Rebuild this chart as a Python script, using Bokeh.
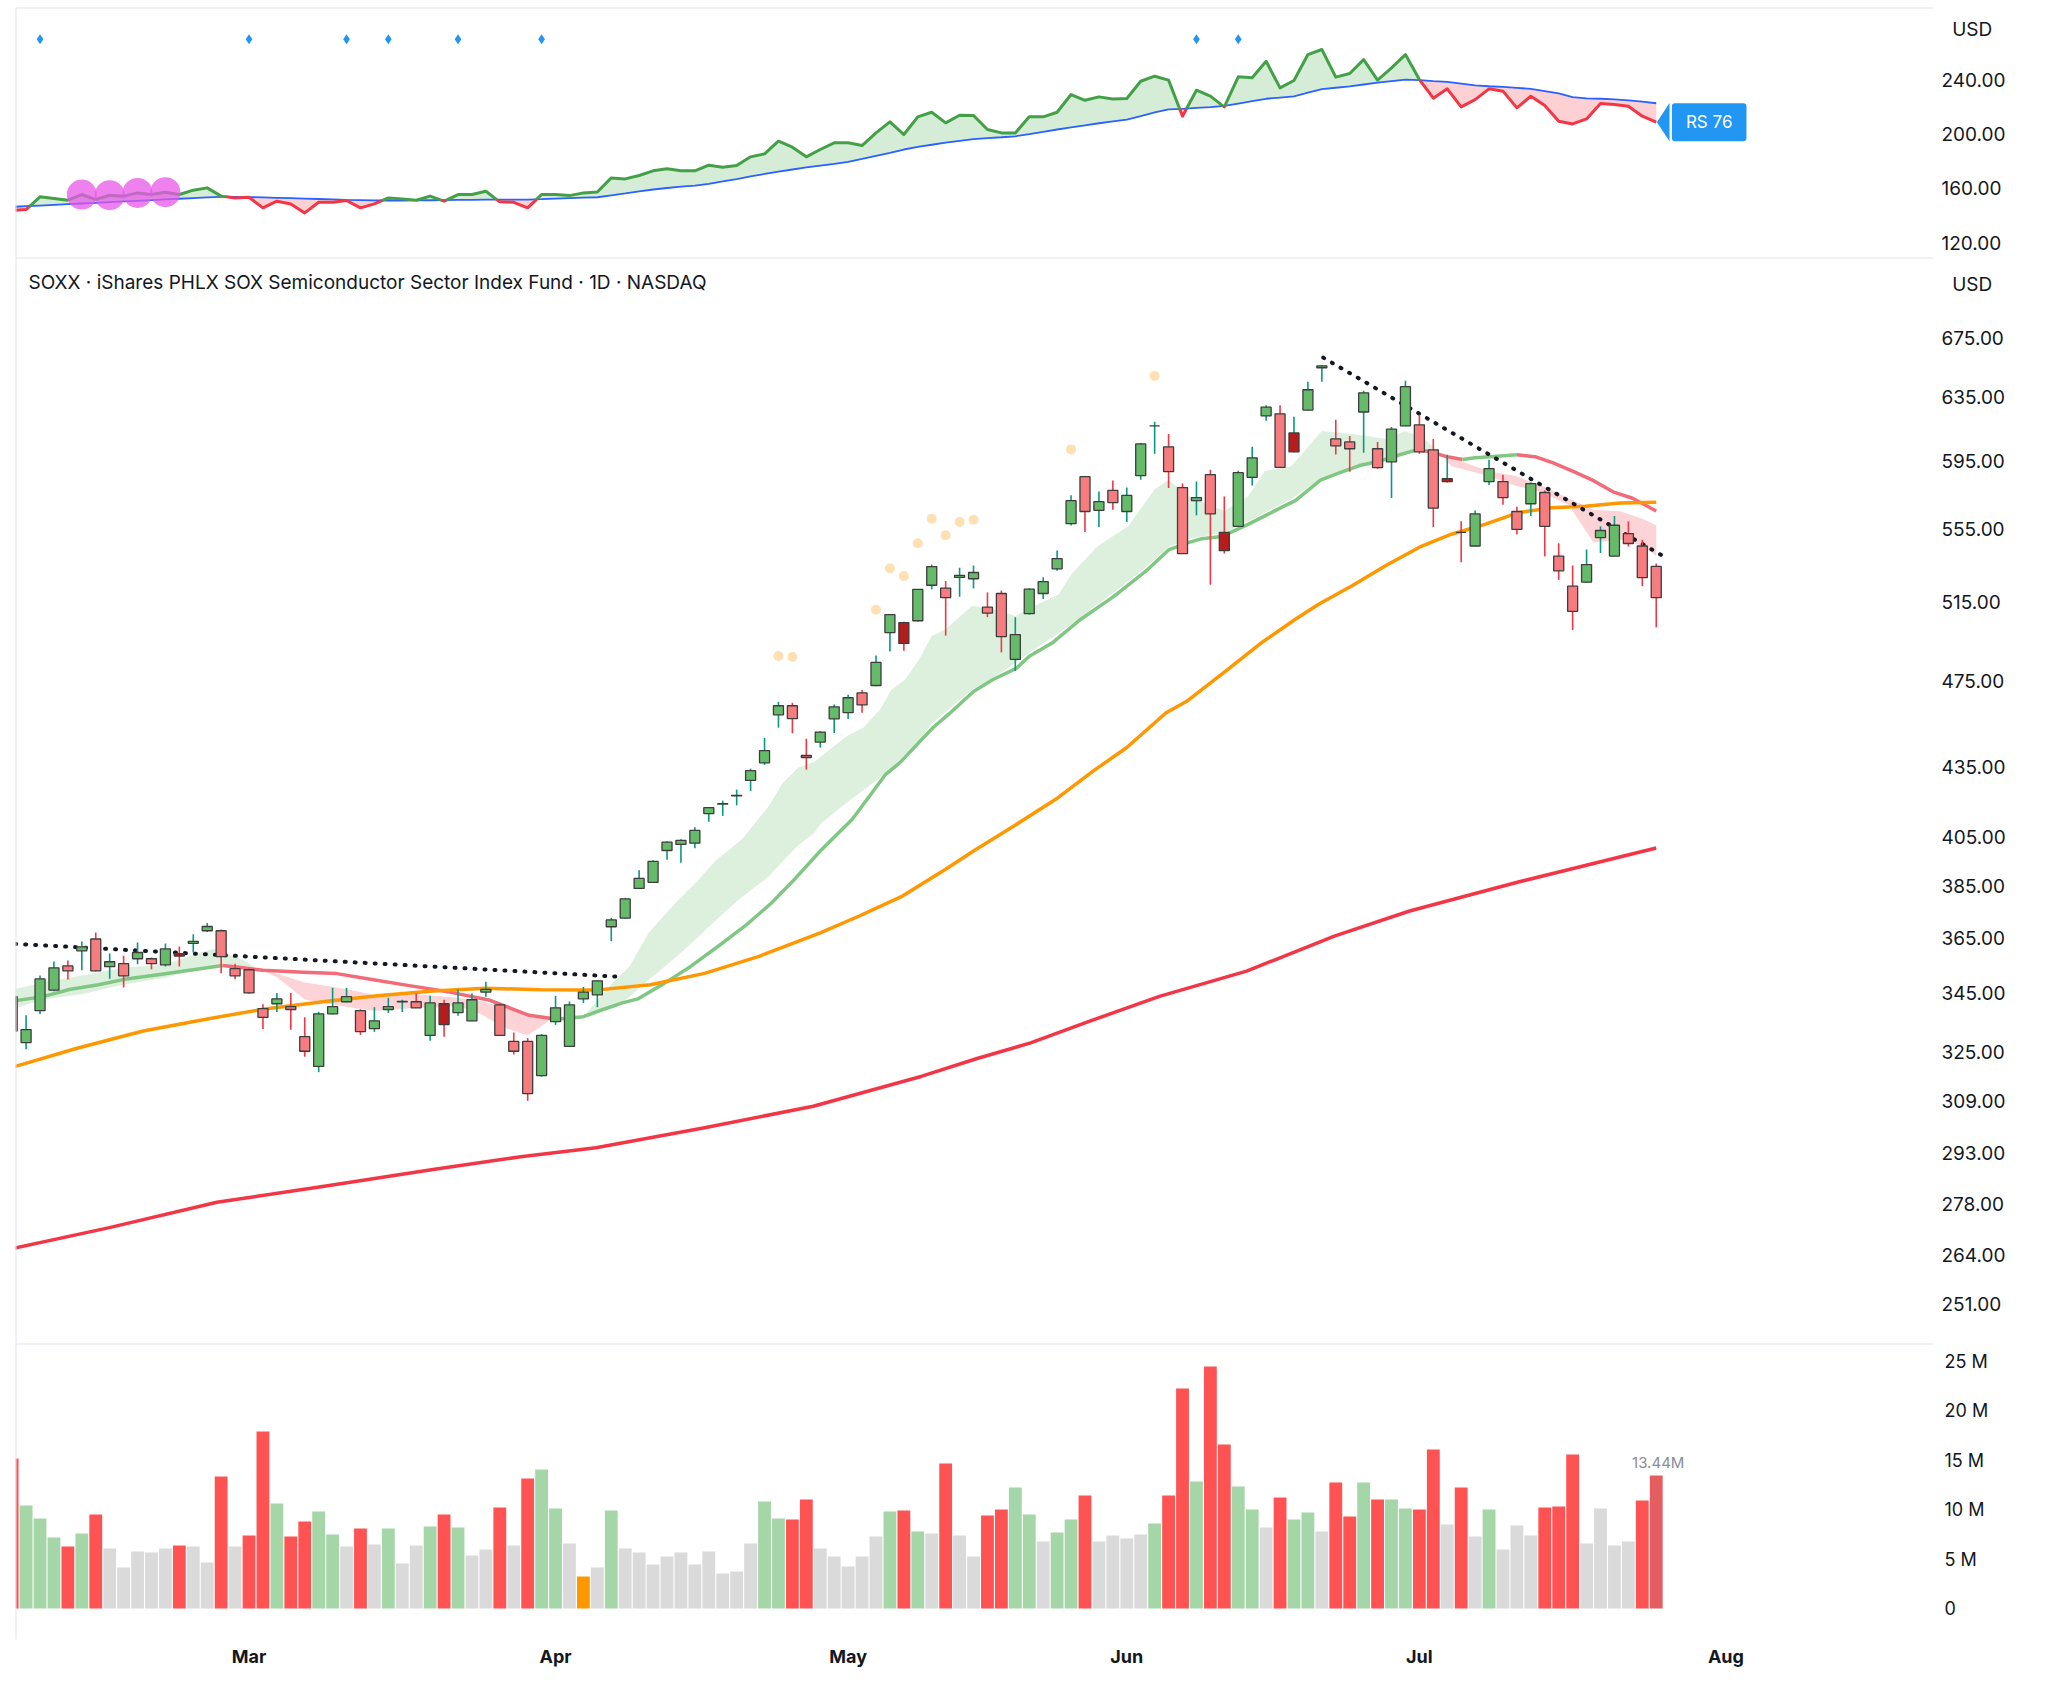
import math
from bokeh.plotting import figure
from bokeh.models import Range1d, FixedTicker, PrintfTickFormatter, Label, Span
from bokeh.layouts import column
from bokeh.embed import file_html
from bokeh.resources import INLINE

FONT = "Inter"
TXT = "#131722"
BORDER = "#e0e3eb"

# ---------------- data ----------------
title = "SOXX · iShares PHLX SOX Semiconductor Sector Index Fund · 1D · NASDAQ"
currency = "USD"
rs_rating = 76

month_labels = ["Mar", "Apr", "May", "Jun", "Jul", "Aug"]
month_index = [17, 39, 60, 80, 101, 123]

opens = [344.0, 328.2, 339.1, 346.3, 355.0, 360.5, 364.9, 354.7, 355.8, 357.6,
         357.6, 355.4, 359.5, 363.3, 368.0, 368.0, 354.0, 353.6, 339.8, 341.5,
         340.5, 330.2, 320.3, 338.0, 342.2, 339.1, 332.9, 339.5, 342.2, 342.2,
         330.6, 341.5, 338.4, 335.6, 345.6, 341.1, 328.6, 328.6, 317.3, 335.3,
         326.9, 343.2, 344.6, 369.5, 372.8, 384.3, 386.7, 399.5, 402.0, 402.5,
         414.9, 418.9, 422.5, 429.2, 437.0, 459.0, 463.3, 440.3, 446.4, 457.1,
         460.0, 469.4, 473.0, 499.3, 504.4, 505.4, 524.1, 522.6, 528.3, 527.6,
         512.5, 519.7, 485.8, 509.1, 519.7, 533.0, 558.2, 585.7, 565.8, 577.5,
         565.2, 586.3, 617.0, 603.9, 579.2, 571.5, 586.9, 553.2, 556.7, 585.3,
         623.3, 624.6, 612.5, 627.0, 654.8, 608.8, 606.9, 625.8, 602.7, 594.7,
         617.0, 617.6, 602.0, 584.5, 553.2, 545.6, 582.8, 582.8, 565.2, 569.7,
         576.3, 540.0, 523.6, 525.8, 550.3, 540.0, 552.6, 545.6, 534.3]
highs = [346.0, 337.5, 351.5, 356.6, 357.0, 364.0, 367.3, 359.5, 358.7, 363.6,
         358.1, 363.2, 362.1, 366.7, 370.9, 368.5, 355.8, 354.0, 341.3, 345.3,
         345.3, 336.8, 338.7, 347.1, 347.1, 339.6, 340.3, 343.6, 342.9, 345.1,
         344.3, 342.9, 346.6, 345.1, 349.3, 341.6, 331.6, 329.7, 331.0, 344.3,
         342.3, 347.4, 349.8, 372.9, 380.6, 391.5, 395.5, 403.3, 404.1, 409.1,
         417.6, 420.4, 425.2, 434.4, 448.3, 465.2, 464.7, 447.9, 451.4, 463.9,
         468.5, 470.8, 487.7, 508.8, 504.9, 522.1, 535.3, 526.4, 533.6, 534.8,
         520.3, 521.3, 507.2, 522.5, 528.4, 543.1, 574.7, 586.0, 576.9, 583.4,
         579.2, 606.3, 619.5, 611.9, 581.6, 582.8, 589.9, 573.9, 589.3, 603.9,
         630.1, 630.1, 622.7, 645.5, 656.7, 620.8, 610.6, 639.5, 606.9, 616.2,
         646.1, 624.0, 608.8, 599.0, 559.6, 565.8, 596.0, 586.9, 568.0, 582.2,
         577.5, 547.1, 534.8, 543.6, 556.7, 562.6, 559.5, 549.1, 535.9]
lows = [331.0, 326.0, 337.9, 345.9, 350.1, 353.4, 353.0, 350.4, 347.2, 355.6,
        353.8, 354.8, 354.8, 359.9, 367.5, 352.3, 350.2, 345.0, 332.8, 338.6,
        332.5, 323.5, 318.4, 337.8, 342.0, 330.8, 331.8, 338.3, 338.6, 340.0,
        328.8, 330.2, 337.3, 335.4, 344.0, 330.4, 324.2, 309.2, 316.9, 334.2,
        326.7, 341.8, 340.3, 364.1, 372.6, 384.1, 386.5, 395.7, 394.5, 400.4,
        411.4, 413.9, 418.4, 424.6, 436.1, 453.0, 450.4, 434.0, 443.9, 450.5,
        457.1, 460.0, 472.6, 489.8, 490.1, 504.9, 521.9, 497.8, 518.0, 522.4,
        507.3, 489.3, 480.1, 508.6, 516.8, 531.9, 557.1, 553.4, 556.3, 566.2,
        559.2, 583.9, 599.6, 579.0, 541.2, 563.0, 524.4, 541.4, 556.5, 580.4,
        620.2, 591.0, 600.6, 626.8, 645.5, 599.2, 588.7, 600.2, 590.5, 573.0,
        616.8, 599.6, 556.3, 582.2, 536.6, 545.4, 580.8, 569.1, 552.0, 562.6,
        539.8, 527.0, 500.6, 525.3, 541.7, 539.8, 545.3, 523.6, 502.0]
closes = [332.1, 332.6, 350.3, 354.3, 353.2, 362.0, 353.2, 356.5, 351.4, 359.9,
          355.8, 361.2, 358.6, 364.0, 369.6, 358.4, 351.4, 345.3, 336.8, 343.2,
          339.5, 325.3, 338.0, 340.5, 344.0, 331.9, 335.6, 340.5, 342.3, 340.1,
          341.8, 334.3, 341.8, 342.9, 346.6, 330.6, 325.3, 311.5, 330.6, 340.1,
          341.1, 345.6, 349.6, 372.1, 380.2, 388.3, 395.1, 402.9, 403.7, 407.8,
          417.4, 419.1, 422.7, 433.5, 442.5, 463.3, 457.2, 439.4, 451.0, 462.8,
          467.1, 463.7, 484.3, 508.6, 493.8, 521.9, 534.2, 517.5, 529.4, 531.0,
          509.4, 497.3, 498.3, 522.0, 526.1, 538.6, 571.5, 565.2, 570.9, 570.4,
          574.6, 605.7, 617.0, 588.7, 541.4, 573.3, 563.8, 543.0, 588.1, 597.1,
          628.9, 591.3, 600.8, 640.2, 656.1, 604.5, 602.7, 638.2, 591.1, 614.9,
          642.2, 600.8, 567.2, 582.8, 553.2, 563.8, 590.5, 573.3, 554.9, 581.6,
          556.7, 531.9, 510.3, 535.3, 554.3, 557.3, 547.0, 528.2, 517.5]
dark_candles = [12, 31, 64, 87, 92, 103]
dot_candles = [55, 56, 62, 63, 64, 65, 66, 67, 68, 69, 76, 82]

volume_m = [15.15, 10.40, 9.09, 7.17, 6.26, 7.58, 9.49, 6.06, 4.14, 5.76,
            5.66, 6.06, 6.36, 6.26, 4.65, 13.33, 6.26, 7.37, 17.88, 10.61,
            7.27, 8.79, 9.80, 7.47, 6.26, 8.08, 6.46, 8.08, 4.55, 6.36,
            8.28, 9.49, 8.18, 5.35, 5.96, 10.20, 6.36, 13.13, 14.04, 10.10,
            6.57, 3.23, 4.14, 9.90, 6.06, 5.66, 4.44, 5.25, 5.66, 4.44,
            5.76, 3.54, 3.74, 6.57, 10.81, 9.09, 8.99, 11.01, 6.06, 5.25,
            4.24, 5.25, 7.27, 9.80, 9.90, 7.78, 7.58, 14.65, 7.37, 5.25,
            9.39, 10.00, 12.22, 9.49, 6.77, 7.68, 8.99, 11.41, 6.77, 7.37,
            7.07, 7.47, 8.59, 11.41, 22.22, 12.83, 24.44, 16.57, 12.32, 10.00,
            8.18, 11.21, 8.99, 9.70, 7.78, 12.73, 9.29, 12.73, 11.01, 11.01,
            10.10, 10.00, 16.06, 8.48, 12.22, 7.27, 10.00, 5.96, 8.38, 7.37,
            10.20, 10.30, 15.56, 6.57, 10.10, 6.36, 6.77, 10.91, 13.44]
volume_kind = list("rgggrgrnnn" "nnrnnrnrrg" "rrggnrngnn" "grgnnrnrgg" "nongnnnnnn"
                   "nnnnggrrnn" "nnngrgnrnn" "rrggngg" "rnn" "nngrrgrrgg" "nrggnrrgrg"
                   "grrnrngnnn" "rrrnnnnrl")

rs_line = [144.1, 144.9, 154.2, 152.9, 151.7, 155.9, 152.2, 155.4, 154.7, 157.1,
           155.9, 157.6, 155.9, 159.1, 160.8, 154.7, 153.4, 153.9, 146.1, 151.0,
           149.0, 142.4, 150.2, 150.2, 151.5, 146.1, 149.0, 153.4, 152.7, 151.7,
           154.7, 151.0, 155.9, 155.9, 158.3, 150.5, 150.2, 146.1, 155.9, 155.9,
           155.1, 157.1, 157.8, 168.1, 167.4, 169.9, 173.3, 174.8, 173.3, 173.3,
           177.5, 176.0, 177.2, 183.6, 185.8, 195.1, 190.7, 183.6, 189.0, 193.9,
           193.9, 191.9, 201.2, 209.3, 200.0, 213.0, 216.4, 208.6, 214.2, 214.0,
           203.7, 201.2, 201.2, 213.0, 213.0, 216.4, 229.4, 225.2, 227.7, 226.2,
           226.5, 239.2, 242.9, 240.0, 213.5, 232.6, 228.2, 220.3, 242.4, 241.7,
           253.9, 234.3, 239.7, 258.8, 262.5, 242.2, 244.9, 255.1, 240.0, 249.0,
           258.8, 240.4, 226.7, 233.6, 220.3, 225.7, 233.6, 231.9, 219.6, 228.2,
           221.3, 209.8, 207.8, 211.5, 222.8, 222.1, 220.8, 213.5, 209.1]
rs_avg = [146.8, 147.3, 147.8, 148.3, 148.8, 149.3, 149.8, 150.3, 150.8, 151.3,
          151.8, 152.3, 152.8, 153.3, 153.8, 154.2, 154.2, 154.0, 153.8, 153.5,
          153.2, 152.9, 152.6, 152.3, 152.0, 151.8, 151.6, 151.5, 151.5, 151.6,
          151.7, 151.8, 151.9, 152.0, 152.1, 152.2, 152.2, 152.2, 152.5, 152.9,
          153.3, 153.6, 153.9, 155.3, 156.7, 158.2, 159.6, 160.7, 161.7, 162.5,
          163.8, 165.5, 167.3, 169.2, 171.0, 172.8, 174.3, 175.8, 177.2, 178.5,
          179.9, 182.1, 184.4, 186.6, 189.0, 191.0, 192.5, 194.0, 195.4, 196.7,
          197.4, 198.0, 198.7, 200.3, 202.0, 203.7, 205.3, 206.8, 208.3, 209.7,
          211.0, 213.6, 216.3, 218.5, 218.9, 219.6, 220.1, 221.0, 222.8, 224.6,
          226.3, 227.2, 228.1, 230.8, 233.4, 234.4, 235.4, 236.8, 238.1, 239.3,
          240.4, 240.0, 239.3, 238.7, 237.5, 236.2, 235.5, 235.0, 234.3, 233.6,
          232.0, 230.2, 227.5, 226.6, 226.3, 225.8, 225.1, 224.2, 223.0]
rs_signal_bars = [2, 17, 24, 27, 32, 38, 85, 88]
rs_signal_level = 270.0
rs_highlight_bars = [5, 7, 9, 11]

ema_x = [0, 2.2, 4.1, 6.2, 8.2, 10.6, 13.0, 15.1, 16.6, 18.0, 20.9, 23.3, 25.6, 28.5,
         31.4, 34.3, 35.7, 37.1, 39.1, 41.0, 42.4, 43.8, 44.9, 46.8, 48.7, 50.7, 52.6,
         54.5, 56.0, 58.0, 60.3, 62.7, 63.7, 66.1, 67.2, 69.0, 70.4, 72.1, 73.0, 74.7,
         76.7, 79.1, 81.5, 83.0, 84.4, 85.4, 86.8, 88.7, 91.1, 92.1, 93.9, 95.3, 96.7,
         98.1, 99.6, 100.8, 101.7, 102.9, 104.1, 105.0, 106.3, 108.0, 109.4, 110.6,
         112.0, 113.5, 114.9, 116.3, 118.0]
ema_y = [342.4, 344.0, 346.5, 348.2, 350.3, 351.9, 353.6, 355.1, 354.3, 353.4, 352.7,
         352.2, 350.3, 347.9, 345.6, 342.7, 340.1, 337.5, 336.1, 337.0, 339.5, 341.8,
         343.2, 348.7, 354.8, 362.3, 369.8, 378.6, 387.0, 399.3, 412.5, 431.9, 437.0,
         453.1, 459.2, 470.1, 475.9, 481.5, 487.4, 494.3, 506.2, 518.3, 532.6, 543.4,
         547.5, 549.7, 550.9, 557.8, 567.6, 571.5, 583.7, 588.1, 592.4, 595.0, 599.0,
         602.0, 601.0, 598.0, 596.1, 597.1, 598.0, 599.0, 597.6, 594.0, 589.0, 583.3,
         576.7, 572.9, 565.5]

cloud_x = [0, 2.2, 5, 8, 11, 13.5, 14.5, 16.5, 17.5, 19, 21, 23.3, 26, 29, 32, 33.7,
           35.3, 37, 38.5, 41, 43.3, 44.3, 45.7, 47.6, 49.1, 50.5, 52.4, 54.3, 55.3,
           56.4, 57.6, 58.0, 59.9, 61.1, 62.3, 63.1, 64.1, 65.1, 66.0, 67.0, 68.9,
           70.8, 72.0, 73.4, 75.1, 76.1, 77.9, 80.1, 82.0, 83.0, 84.4, 87.0, 88.7,
           89.9, 91.8, 94.0, 96.2, 98.6, 100.0, 101.5, 102.5, 103.3, 106.0, 107.9,
           109.8, 111.7, 113.5, 115.4, 117.1, 118.0]
cloud_fast = [346.5, 348.9, 351.5, 354.3, 355.5, 359.9, 361.3, 357.3, 354.3, 351.0,
              343.0, 341.0, 339.0, 340.1, 340.7, 337.8, 333.3, 330.6, 335.5, 337.0,
              350.1, 354.8, 367.3, 378.6, 386.7, 395.4, 404.2, 418.0, 428.1, 434.8,
              437.5, 439.6, 449.1, 453.1, 461.5, 471.0, 475.9, 485.9, 497.6, 501.0,
              513.2, 510.6, 507.9, 513.2, 519.2, 530.8, 545.4, 556.8, 578.2, 583.7,
              574.1, 565.5, 574.1, 589.0, 592.0, 613.8, 611.8, 608.8, 613.8, 607.8,
              599.5, 592.0, 586.1, 580.3, 576.5, 569.1, 547.6, 549.3, 545.4, 540.0]
cloud_slow = [339.6, 343.0, 344.8, 348.3, 350.7, 354.3, 354.8, 354.8, 354.3, 352.2,
              349.0, 347.2, 344.7, 344.8, 343.6, 342.4, 340.1, 337.8, 336.7, 337.0,
              340.1, 344.0, 350.0, 358.0, 365.0, 372.0, 381.0, 389.0, 395.0, 401.5,
              406.9, 410.4, 419.6, 425.0, 430.5, 434.2, 441.0, 447.0, 455.0, 460.5,
              471.0, 478.5, 484.0, 491.0, 499.0, 504.0, 514.0, 526.0, 538.0, 545.0,
              549.5, 553.0, 559.5, 564.5, 572.5, 585.0, 590.0, 596.0, 599.9, 601.5,
              599.5, 597.1, 589.0, 586.1, 580.3, 572.9, 566.2, 565.3, 560.7, 557.1]

sma50_x = [0, 4.6, 9.4, 14.2, 18.0, 22.6, 26.4, 30.2, 34.0, 38.0, 41.9, 45.8, 49.7,
           53.6, 58.0, 60.8, 63.9, 67.0, 69.0, 72.1, 74.9, 77.6, 80.0, 82.8, 84.3,
           87.3, 89.7, 92.1, 93.8, 96.2, 98.6, 101.0, 103.3, 105.7, 108.1, 110.5,
           112.9, 115.4, 118.0]
sma50_y = [320.0, 326.2, 332.1, 336.4, 339.6, 342.4, 344.4, 346.0, 347.0, 346.4,
           346.3, 348.2, 352.3, 358.5, 367.2, 373.6, 381.3, 391.9, 399.3, 410.4,
           421.0, 433.4, 443.9, 459.9, 465.4, 481.1, 494.3, 506.2, 514.1, 524.0,
           534.8, 544.9, 552.2, 557.8, 564.5, 567.4, 568.3, 570.2, 570.6]

sma200_x = [0, 6.9, 14.7, 22.4, 30.2, 36.5, 41.9, 49.7, 57.5, 65.3, 69.2, 73.1, 77.0,
            82.4, 88.6, 94.9, 100.3, 108.1, 118.0]
sma200_y = [265.8, 271.5, 278.7, 283.3, 288.2, 292.0, 294.7, 300.8, 307.5, 317.1,
            322.8, 328.1, 334.9, 344.2, 353.1, 366.0, 375.5, 386.8, 400.5]

trend_lines = [([-0.5, 43.5], [363.3, 351.1]), ([94.1, 118.6], [661.6, 539.5])]

price_ticks = [251, 264, 278, 293, 309, 325, 345, 365, 385, 405, 435, 475, 515, 555,
               595, 635, 675]
rs_ticks = [120, 160, 200, 240]
volume_ticks = [0, 5, 10, 15, 20, 25]
rs_currency_level = 277      # where the "USD" tag sits on the RS scale
price_currency_level = 713   # where the "USD" tag sits on the price scale

# ---------------- helpers ----------------
n = len(closes)
idx = list(range(n))


def sided_runs(xs, ys, ms):
    """Split the band between ys and ms into runs where ys>=ms or ys<ms."""
    out = []
    cx, cy, cm = [xs[0]], [ys[0]], [ms[0]]
    side = ys[0] >= ms[0]
    for k in range(1, len(xs)):
        x0, y0, m0 = xs[k - 1], ys[k - 1], ms[k - 1]
        x1, y1, m1 = xs[k], ys[k], ms[k]
        s1 = y1 >= m1
        if s1 != side:
            d0, d1 = y0 - m0, y1 - m1
            t = d0 / (d0 - d1) if d0 != d1 else 0.0
            xc = x0 + t * (x1 - x0)
            yc = y0 + t * (y1 - y0)
            mc = m0 + t * (m1 - m0)
            cx.append(xc); cy.append(yc); cm.append(mc)
            out.append((side, cx, cy, cm))
            cx, cy, cm = [xc], [yc], [mc]
            side = s1
        cx.append(x1); cy.append(y1); cm.append(m1)
    out.append((side, cx, cy, cm))
    return out


x_range = Range1d(0.24, 137.9)
NB = "\u00a0\u00a0"


def make_fig(h, y_range, standoff, top=0, bottom=0, label_size="18px", **kw):
    p = figure(frame_width=1918, frame_height=h, x_range=x_range, y_range=y_range,
               output_backend="svg", toolbar_location=None, y_axis_location="right",
               min_border_left=15, min_border_right=106, min_border_top=top,
               min_border_bottom=bottom, **kw)
    p.xgrid.visible = False
    p.ygrid.visible = False
    p.outline_line_color = None
    ax = p.yaxis[0]
    ax.axis_line_color = None
    ax.major_tick_line_color = None
    ax.minor_tick_line_color = None
    ax.major_tick_out = 0
    ax.major_tick_in = 0
    ax.major_label_standoff = standoff
    ax.major_label_text_font = FONT
    ax.major_label_text_font_size = label_size
    ax.major_label_text_color = TXT
    p.add_layout(Span(location=y_range.end, dimension="width", line_color=BORDER, line_width=2))
    p.add_layout(Span(location=0.24, dimension="height", line_color=BORDER, line_width=2))
    return p


# ---------------- RS pane ----------------
p1 = make_fig(250, Range1d(109.6, 293.4), 8, top=7, label_size="19px", x_axis_location=None)
p1.yaxis.ticker = FixedTicker(ticks=rs_ticks + [rs_currency_level])
ov = {t: f"{t:.2f}" for t in rs_ticks}
ov[rs_currency_level] = NB + currency
p1.yaxis.major_label_overrides = ov

for above, xs_, ys_, ms_ in sided_runs(idx, rs_line, rs_avg):
    p1.patch(xs_ + xs_[::-1], ys_ + ms_[::-1],
             fill_color="#d5edd6" if above else "#fdd1d4", line_color=None)
p1.line(idx, rs_avg, line_color="#2962ff", line_width=1.8)
for above, xs_, ys_, ms_ in sided_runs(idx, rs_line, rs_avg):
    p1.line(xs_, ys_, line_color="#43a047" if above else "#f23645", line_width=3,
            line_join="round")
p1.scatter(rs_highlight_bars, [rs_line[i] for i in rs_highlight_bars],
           size=30, marker="circle", fill_color="#e857e8", fill_alpha=0.75, line_color=None)
p1.scatter(rs_signal_bars, [rs_signal_level] * len(rs_signal_bars), marker="diamond",
           size=10, fill_color="#2196f3", line_color=None)

# RS value tag
last = n - 1
p1.patch([last + 0.05, last + 0.95, last + 0.95],
         [rs_line[-1], rs_line[-1] + 14, rs_line[-1] - 14],
         fill_color="#2196f3", line_color=None)
p1.add_layout(Label(x=last + 3.8, y=rs_line[-1], text=f"RS {rs_rating}", text_align="center",
                    text_baseline="middle", text_color="white", text_font=FONT,
                    text_font_size="17px", background_fill_color="#2196f3",
                    padding=(14, 9), border_radius=3))

# ---------------- price pane ----------------
p2 = make_fig(1086, Range1d(241.2, 733), 8, label_size="19px", x_axis_location=None,
              y_axis_type="log")
p2.yaxis.ticker = FixedTicker(ticks=price_ticks + [price_currency_level])
p2.yaxis.formatter = PrintfTickFormatter(format="%.2f")
p2.yaxis.major_label_overrides = {price_currency_level: NB + currency}

for above, xs_, ys_, ms_ in sided_runs(cloud_x, cloud_fast, cloud_slow):
    p2.patch(xs_ + xs_[::-1], ys_ + ms_[::-1],
             fill_color="#ddf0de" if above else "#fcd3d6", line_color=None)

signs = [ema_y[k + 1] >= ema_y[k] for k in range(len(ema_x) - 1)]
k0 = 0
for k in range(1, len(signs) + 1):
    if k == len(signs) or signs[k] != signs[k0]:
        p2.line(ema_x[k0:k + 1], ema_y[k0:k + 1],
                line_color="#81c784" if signs[k0] else "#f26b78", line_width=3.5,
                line_join="round")
        k0 = k

p2.line(sma50_x, sma50_y, line_color="#ff9800", line_width=3.5, line_join="round")
p2.line(sma200_x, sma200_y, line_color="#f23645", line_width=3.5, line_join="round")
for tx, ty in trend_lines:
    p2.line(tx, ty, line_color="#131722", line_width=4, line_dash="1 9", line_cap="round")

wick_col = ["#f23645" if (i == 0 or closes[i] < closes[i - 1]) else "#089981" for i in idx]
body_col = [("#b71c1c" if i in dark_candles else ("#66bb6a" if closes[i] >= opens[i] else "#f77c80"))
            for i in idx]
p2.segment(idx, lows, idx, highs, line_color=wick_col, line_width=1.6)
p2.vbar(x=idx, top=[max(o, c) for o, c in zip(opens, closes)],
        bottom=[min(o, c) for o, c in zip(opens, closes)], width=0.72,
        fill_color=body_col, line_color="#3d3d3d", line_width=1.3)
p2.scatter(dot_candles, [highs[i] * 1.048 for i in dot_candles], size=10, marker="circle",
           fill_color="#ffe0b2", line_color=None)

p2.add_layout(Label(x=13, y=1061, x_units="screen", y_units="screen", text=title,
                    text_font=FONT, text_font_size="19px", text_color=TXT,
                    text_baseline="middle"))

# ---------------- volume pane ----------------
p3 = make_fig(296, Range1d(-3.13, 26.77), 11, bottom=40)
p3.yaxis.ticker = FixedTicker(ticks=volume_ticks)
p3.yaxis.major_label_overrides = {t: ("0" if t == 0 else f"{t} M") for t in volume_ticks}
vol_colors = {"r": "#ff5252", "g": "#a5d6a7", "n": "#dadada", "o": "#ff9800", "l": "#e35d61"}
p3.vbar(x=idx, top=volume_m, bottom=0, width=0.92,
        fill_color=[vol_colors[k] for k in volume_kind], line_color=None)
p3.add_layout(Label(x=last, y=volume_m[-1], x_offset=2, y_offset=3,
                    text=f"{volume_m[-1]:.2f}M", text_align="center", text_baseline="bottom",
                    text_font=FONT, text_font_size="15px", text_color="#8a8d96"))
xa = p3.xaxis[0]
xa.ticker = FixedTicker(ticks=month_index)
xa.major_label_overrides = {m: lab for m, lab in zip(month_index, month_labels)}
xa.axis_line_color = None
xa.major_tick_line_color = None
xa.minor_tick_line_color = None
xa.major_tick_out = 0
xa.major_tick_in = 0
xa.major_label_standoff = 6
xa.major_label_text_font = FONT
xa.major_label_text_font_size = "18px"
xa.major_label_text_font_style = "bold"
xa.major_label_text_color = TXT

layout = column(p1, p2, p3, spacing=0)
open("out.html", "w").write(file_html(layout, INLINE))
